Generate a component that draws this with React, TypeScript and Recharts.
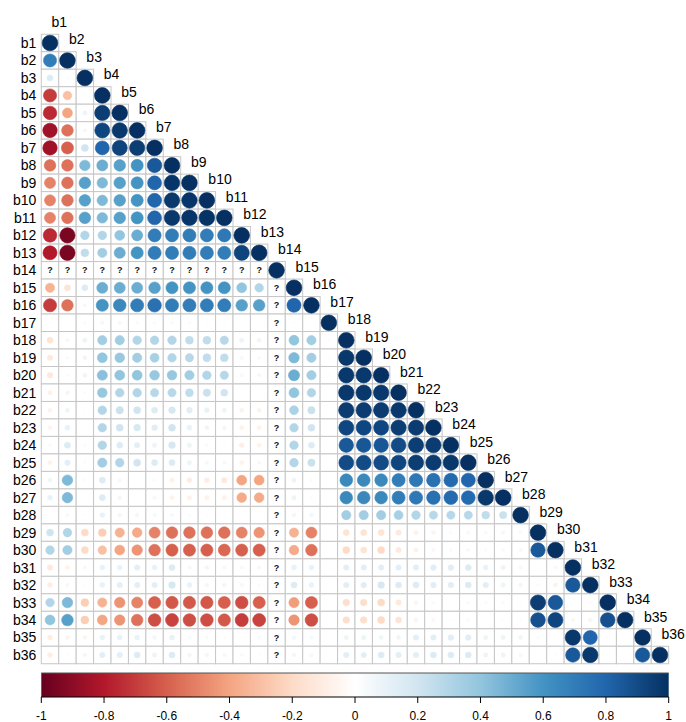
import React from 'react';
import {
  ComposedChart,
  ReferenceArea,
  ReferenceLine,
  Scatter,
  ScatterChart,
  XAxis,
  YAxis,
} from 'recharts';

const varNames = [
  'b1', 'b2', 'b3', 'b4', 'b5', 'b6', 'b7', 'b8', 'b9', 'b10', 'b11', 'b12',
  'b13', 'b14', 'b15', 'b16', 'b17', 'b18', 'b19', 'b20', 'b21', 'b22', 'b23', 'b24',
  'b25', 'b26', 'b27', 'b28', 'b29', 'b30', 'b31', 'b32', 'b33', 'b34', 'b35', 'b36',
];

// lower triangle, row i holds columns b1..bi; null is a missing correlation (b14)
const corrRows: (number | null)[][] = [
  [1],
  [0.7, 1],
  [0.15, 0.02, 1],
  [-0.7, -0.3, 0.02, 1],
  [-0.75, -0.4, 0.08, 0.95, 1],
  [-0.85, -0.55, 0.05, 0.92, 0.97, 1],
  [-0.85, -0.6, 0.2, 0.8, 0.93, 0.95, 1],
  [-0.55, -0.55, 0.45, 0.5, 0.55, 0.6, 0.85, 1],
  [-0.5, -0.55, 0.55, 0.45, 0.55, 0.6, 0.8, 0.98, 1],
  [-0.5, -0.55, 0.55, 0.45, 0.55, 0.6, 0.8, 0.97, 0.98, 1],
  [-0.5, -0.55, 0.55, 0.45, 0.55, 0.6, 0.8, 0.97, 0.98, 0.99, 1],
  [-0.75, -0.95, 0.3, 0.3, 0.4, 0.5, 0.7, 0.7, 0.7, 0.7, 0.72, 1],
  [-0.8, -0.95, 0.25, 0.35, 0.5, 0.6, 0.7, 0.7, 0.7, 0.7, 0.7, 0.93, 1],
  [null, null, null, null, null, null, null, null, null, null, null, null, null, 1],
  [-0.35, -0.15, 0.15, 0.5, 0.5, 0.5, 0.55, 0.6, 0.6, 0.6, 0.6, 0.4, 0.3, null, 1],
  [-0.7, -0.55, 0.05, 0.6, 0.65, 0.7, 0.75, 0.7, 0.7, 0.7, 0.7, 0.55, 0.55, null, 0.8, 1],
  [0.02, 0.01, 0.03, 0.05, 0.05, 0.04, 0.03, 0.03, 0.03, 0.02, 0.02, 0.01, 0.01, null, 0.02, 0.01, 1],
  [-0.15, 0.05, 0.08, 0.35, 0.35, 0.3, 0.3, 0.3, 0.25, 0.25, 0.28, 0.08, 0.07, null, 0.4, 0.35, 0.02, 1],
  [-0.12, 0.04, 0.07, 0.4, 0.38, 0.35, 0.33, 0.3, 0.28, 0.25, 0.25, 0.05, 0.04, null, 0.45, 0.35, 0.02, 0.97, 1],
  [-0.13, 0.03, 0.07, 0.42, 0.4, 0.4, 0.38, 0.38, 0.35, 0.3, 0.28, 0.05, 0.05, null, 0.5, 0.35, 0.02, 0.97, 0.97, 1],
  [-0.08, 0.06, 0.03, 0.38, 0.3, 0.3, 0.28, 0.28, 0.25, 0.22, 0.2, 0.01, 0.01, null, 0.4, 0.3, 0.01, 0.97, 0.97, 0.97, 1],
  [-0.07, 0.08, 0.02, 0.3, 0.22, 0.2, 0.15, 0.18, 0.13, 0.1, 0.08, -0.07, -0.07, null, 0.32, 0.22, 0.01, 0.96, 0.96, 0.96, 0.97, 1],
  [-0.06, 0.1, 0.01, 0.3, 0.2, 0.18, 0.13, 0.2, 0.1, 0.07, 0.06, -0.07, -0.07, null, 0.3, 0.2, 0.01, 0.92, 0.92, 0.92, 0.95, 0.96, 1],
  [-0.04, 0.15, -0.03, 0.3, 0.15, 0.12, 0.08, 0.18, 0.08, 0.04, 0.02, -0.09, -0.07, null, 0.3, 0.15, 0.01, 0.85, 0.86, 0.86, 0.9, 0.95, 0.96, 1],
  [-0.07, 0.12, -0.03, 0.35, 0.3, 0.2, 0.15, 0.15, 0.08, 0.05, 0.05, -0.07, -0.05, null, 0.3, 0.22, 0.01, 0.9, 0.9, 0.9, 0.92, 0.95, 0.96, 0.97, 1],
  [0.07, 0.45, -0.03, 0.15, 0.05, 0.01, -0.03, -0.08, -0.1, -0.1, -0.12, -0.4, -0.4, null, 0.08, 0.03, 0.01, 0.65, 0.65, 0.65, 0.7, 0.72, 0.75, 0.78, 0.8, 1],
  [0.1, 0.45, 0.01, 0.15, 0.06, 0.01, -0.05, -0.07, -0.08, -0.08, -0.08, -0.38, -0.38, null, 0.08, -0.03, 0.01, 0.65, 0.65, 0.65, 0.7, 0.72, 0.75, 0.78, 0.78, 0.97, 1],
  [0.01, 0.05, 0.02, 0.1, 0.06, 0.06, 0.05, 0.05, 0.03, 0.02, 0.02, 0.01, 0.01, null, 0.06, 0.06, 0.01, 0.35, 0.35, 0.35, 0.33, 0.3, 0.28, 0.28, 0.28, 0.25, 0.22, 1],
  [0.2, 0.3, -0.2, -0.25, -0.35, -0.38, -0.5, -0.55, -0.55, -0.55, -0.55, -0.5, -0.45, null, -0.35, -0.5, 0.01, -0.15, -0.15, -0.15, -0.12, -0.08, -0.06, -0.03, -0.05, 0.04, 0.05, -0.04, 1],
  [0.3, 0.35, -0.2, -0.3, -0.4, -0.45, -0.55, -0.6, -0.6, -0.6, -0.58, -0.6, -0.6, null, -0.38, -0.55, 0.01, -0.2, -0.15, -0.2, -0.12, -0.08, -0.05, -0.03, -0.05, 0.03, 0.04, -0.05, 0.85, 1],
  [-0.12, -0.07, -0.05, 0.1, 0.1, 0.12, 0.1, 0.15, 0.05, 0.06, 0.05, 0.05, 0.05, null, 0.1, 0.1, 0.01, 0.12, 0.12, 0.12, 0.12, 0.12, 0.13, 0.13, 0.15, 0.1, 0.08, 0.05, 0.01, -0.05, 1],
  [-0.1, -0.05, -0.02, 0.1, 0.12, 0.12, 0.12, 0.18, 0.1, 0.06, 0.06, 0.05, 0.03, null, 0.15, 0.1, 0.01, 0.12, 0.13, 0.18, 0.15, 0.15, 0.13, 0.13, 0.15, 0.12, 0.08, 0.06, -0.03, -0.07, 0.85, 1],
  [0.3, 0.45, -0.25, -0.35, -0.45, -0.5, -0.6, -0.62, -0.62, -0.62, -0.6, -0.65, -0.6, null, -0.42, -0.6, 0.01, -0.18, -0.18, -0.2, -0.12, -0.06, -0.04, -0.02, -0.04, 0.03, 0.03, -0.02, 0.95, 0.85, 0.01, -0.03, 1],
  [0.4, 0.55, -0.25, -0.4, -0.45, -0.55, -0.65, -0.68, -0.65, -0.65, -0.62, -0.7, -0.68, null, -0.45, -0.65, 0.01, -0.18, -0.18, -0.2, -0.15, -0.06, -0.05, -0.02, -0.04, 0.01, 0.02, -0.02, 0.88, 0.92, -0.05, -0.06, 0.88, 1],
  [-0.1, -0.06, -0.06, 0.1, 0.1, 0.1, 0.06, 0.1, 0.04, 0.04, 0.03, 0.02, 0.04, null, 0.06, 0.05, 0.01, 0.08, 0.08, 0.07, 0.07, 0.12, 0.12, 0.13, 0.13, 0.08, 0.08, 0.07, 0.03, 0.01, 0.97, 0.8, 0.03, 0.01, 1],
  [-0.1, -0.02, -0.06, 0.12, 0.12, 0.15, 0.08, 0.15, 0.06, 0.06, 0.05, 0.04, 0.02, null, 0.06, 0.05, 0.01, 0.12, 0.12, 0.15, 0.12, 0.12, 0.15, 0.15, 0.15, 0.08, 0.08, 0.05, 0.01, -0.02, 0.85, 0.97, 0.01, 0.01, 0.85, 1],
];

const legendTicks = [-1, -0.8, -0.6, -0.4, -0.2, 0, 0.2, 0.4, 0.6, 0.8, 1];

// RdBu diverging palette, one stop every 0.2 from -1 to 1
const paletteStops = [
  '#67001F', '#B2182B', '#D6604D', '#F4A582', '#FDDBC7', '#FFFFFF',
  '#D1E5F0', '#92C5DE', '#4393C3', '#2166AC', '#053061',
];

const FONT = '"Liberation Sans", Arial, sans-serif';
const WIDTH = 686;
const MAIN_HEIGHT = 670;
const PLOT_LEFT = 41.3;
const PLOT_RIGHT = 17.3;
const PLOT_TOP = 34.25;
const PLOT_BOTTOM = 6.25;
const N = varNames.length;
const CELL_W = (WIDTH - PLOT_LEFT - PLOT_RIGHT) / N;
const CELL_H = (MAIN_HEIGHT - PLOT_TOP - PLOT_BOTTOM) / N;

function hexRgb(hex: string) {
  return [1, 3, 5].map((i) => parseInt(hex.slice(i, i + 2), 16));
}

function corrColor(r: number) {
  const t = (Math.max(-1, Math.min(1, r)) + 1) / 0.2;
  const i = Math.min(paletteStops.length - 2, Math.floor(t));
  const f = t - i;
  const a = hexRgb(paletteStops[i]);
  const b = hexRgb(paletteStops[i + 1]);
  const c = a.map((v, k) => Math.round(v + (b[k] - v) * f));
  return `rgb(${c[0]},${c[1]},${c[2]})`;
}

type Cell = { row: number; col: number; r: number | null };

const cells: Cell[] = corrRows.flatMap((vals, i) =>
  vals.map((r, j) => ({ row: i + 1, col: j + 1, r })),
);
const valued = cells.filter((c) => c.r !== null);
const missing = cells.filter((c) => c.r === null);
const diagonal = cells.filter((c) => c.row === c.col);
const rowTicks = varNames.map((_, i) => i + 1);
const legendData = legendTicks.map((v) => ({ v, y: 0.5 }));

const GridCell = (props: any) => {
  const { cx, cy } = props;
  return (
    <rect
      x={cx - CELL_W / 2}
      y={cy - CELL_H / 2}
      width={CELL_W}
      height={CELL_H}
      fill="#fff"
      stroke="#c6c6c6"
      strokeWidth={1}
    />
  );
};

// circle area follows |r|, colour follows r
const CorrCircle = (props: any) => {
  const { cx, cy, payload } = props;
  const r = payload.r as number;
  const radius = 0.45 * Math.sqrt(Math.abs(r)) * CELL_W;
  const col = corrColor(r);
  return <circle cx={cx} cy={cy} r={radius} fill={col} stroke={col} strokeWidth={0.6} />;
};

const MissingMark = (props: any) => {
  const { cx, cy } = props;
  return (
    <text
      x={cx}
      y={cy}
      dy="0.35em"
      textAnchor="middle"
      fontSize={9}
      fontWeight="bold"
      fontFamily={FONT}
      fill="#111"
    >
      ?
    </text>
  );
};

const DiagonalLabel = (props: any) => {
  const { cx, cy, payload } = props;
  return (
    <text
      x={cx + 1.5}
      y={cy - CELL_H - 3.5}
      dy="0.355em"
      fontSize={14}
      fontFamily={FONT}
      fill="#000"
    >
      {varNames[payload.col - 1]}
    </text>
  );
};

export default function App() {
  return (
    <div style={{ position: 'absolute', left: 0, top: 0, width: WIDTH, height: 722, background: '#fff' }}>
      <svg width={0} height={0} style={{ position: 'absolute' }}>
        <defs>
          <linearGradient id="corrGradient" x1="0" y1="0" x2="1" y2="0">
            {paletteStops.map((c, i) => (
              <stop key={c + i} offset={`${i * 10}%`} stopColor={c} />
            ))}
          </linearGradient>
        </defs>
      </svg>
      <div style={{ position: 'absolute', left: 0, top: 0 }}>
        <ScatterChart
          width={WIDTH}
          height={MAIN_HEIGHT}
          margin={{ top: PLOT_TOP, right: PLOT_RIGHT, bottom: PLOT_BOTTOM, left: 0 }}
        >
          <XAxis type="number" dataKey="col" domain={[0.5, N + 0.5]} hide />
          <YAxis
            type="number"
            dataKey="row"
            domain={[0.5, N + 0.5]}
            reversed
            ticks={rowTicks}
            interval={0}
            width={PLOT_LEFT}
            axisLine={false}
            tickLine={false}
            tickSize={3}
            tickMargin={2}
            tickFormatter={(v: number) => varNames[v - 1]}
            tick={{ fontSize: 14, fill: '#000', fontFamily: FONT }}
          />
          <Scatter data={cells} shape={GridCell} isAnimationActive={false} />
          <Scatter data={valued} shape={CorrCircle} isAnimationActive={false} />
          <Scatter data={missing} shape={MissingMark} isAnimationActive={false} />
          <Scatter data={diagonal} shape={DiagonalLabel} isAnimationActive={false} />
        </ScatterChart>
      </div>
      <div style={{ position: 'absolute', left: 0, top: MAIN_HEIGHT }}>
        <ComposedChart
          width={WIDTH}
          height={52}
          data={legendData}
          margin={{ top: 3, right: PLOT_RIGHT, bottom: 0, left: PLOT_LEFT }}
        >
          <XAxis
            type="number"
            dataKey="v"
            domain={[-1, 1]}
            ticks={legendTicks}
            interval={0}
            height={25}
            tickSize={6}
            tickMargin={8}
            stroke="#000"
            tick={{ fontSize: 12, fill: '#000', fontFamily: FONT }}
          />
          <YAxis type="number" dataKey="y" domain={[0, 1]} hide />
          <ReferenceArea
            x1={-1}
            x2={1}
            y1={0}
            y2={1}
            fill="url(#corrGradient)"
            fillOpacity={1}
            stroke="none"
            ifOverflow="visible"
          />
          <ReferenceLine y={1} stroke="#555" strokeWidth={1} ifOverflow="visible" />
        </ComposedChart>
      </div>
    </div>
  );
}
